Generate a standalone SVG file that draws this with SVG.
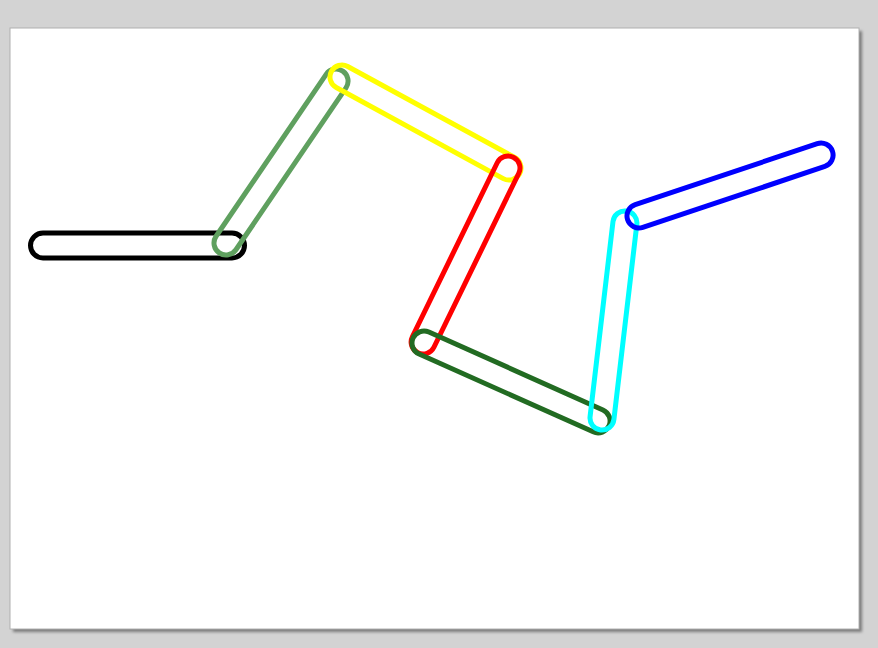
<svg xmlns="http://www.w3.org/2000/svg" width="878" height="648" viewBox="0 0 878 648">
  <defs>
    <filter id="blur" x="-5%" y="-5%" width="110%" height="110%">
      <feGaussianBlur stdDeviation="1.5"/>
    </filter>
  </defs>
  <style>
    .cap { fill: none; stroke-width: 5; }
  </style>
  <rect x="0" y="0" width="878" height="648" fill="#d3d3d3"/>
  <rect x="13" y="31" width="849" height="601" fill="#7a7a7a" filter="url(#blur)"/>
  <rect x="10" y="28" width="849" height="601" fill="#ffffff" stroke="#b0b0b0" stroke-width="1"/>
  <g id="links">
    <g id="black"><rect class="cap" stroke="#000000" x="-12.5" y="-12.5" width="214" height="25" rx="12.5" transform="translate(43,245.5)"/></g>
    <g id="green"><rect class="cap" stroke="#5fa05f" stroke-width="4.5" x="-12" y="-12" width="219.8" height="24" rx="12" transform="translate(226,243) rotate(-55.8)"/></g>
    <g id="yellow"><rect class="cap" stroke="#ffff00" x="-12" y="-12" width="214.2" height="24" rx="12" transform="translate(342,77) rotate(28.6)"/></g>
    <g id="red"><rect class="cap" stroke="#ff0000" x="-12" y="-12" width="217.6" height="24" rx="12" transform="translate(508,168) rotate(116)"/></g>
    <g id="darkgreen"><rect class="cap" stroke="#226b22" x="-12" y="-12" width="214.7" height="24" rx="12" transform="translate(424,343) rotate(24.1)"/></g>
    <g id="cyan"><rect class="cap" stroke="#00ffff" x="-12" y="-12" width="220.4" height="24" rx="12" transform="translate(602,418) rotate(-83.3)"/></g>
    <g id="blue"><rect class="cap" stroke="#0000ff" x="-12" y="-12" width="216" height="24" rx="12" transform="translate(639,216) rotate(-18.5)"/></g>
  </g>
</svg>
